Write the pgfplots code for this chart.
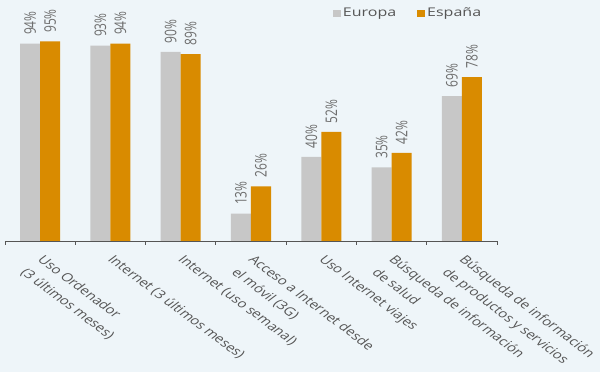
\documentclass[border=0pt]{standalone}
\usepackage{fontspec}
\setmainfont{Open Sans}
\usepackage{pgfplots}
\pgfplotsset{compat=1.18}
\definecolor{bg}{RGB}{238,245,249}
\definecolor{eu}{RGB}{199,199,199}
\definecolor{es}{RGB}{217,139,0}
\definecolor{txt}{RGB}{85,85,85}
\definecolor{vtxt}{RGB}{110,110,110}
\begin{document}
\begin{tikzpicture}
\useasboundingbox (0,0) rectangle (600pt,372pt);
\fill[bg] (0,0) rectangle (600pt,372pt);
\begin{axis}[
  at={(5pt,131pt)}, anchor=south west,
  scale only axis, width=492pt, height=210pt,
  xmin=-0.5, xmax=6.5, ymin=0, ymax=100,
  axis x line*=bottom, axis y line=none,
  ybar=0pt, bar width=20pt,
  clip=false,
  /pgf/number format/assume math mode=true,
  xtick={0,...,6},
  xticklabels={{Uso Ordenador\\(3 últimos meses)},{Internet (3 últimos meses)},{Internet (uso semanal)},{Acceso a Internet desde\\el móvil (3G)},{Uso Internet viajes},{Búsqueda de información\\de salud},{Búsqueda de información\\de productos y servicios}},
  major tick length=0pt,
  minor xtick={-0.5,0.5,...,6.5},
  minor tick length=4pt,
  tick align=outside,
  x axis line style={txt, line width=0.8pt},
  every tick/.style={txt, line width=0.8pt},
  xticklabel style={xshift=5pt, yshift=-13pt, yscale=0.75, rotate=-45, anchor=north west, align=left, inner sep=0pt, font=\fontsize{15.3}{24}\selectfont, text=txt},
  nodes near coords={\scalebox{0.75}[1]{\pgfmathprintnumber{\pgfplotspointmeta}\%}},
  every node near coord/.append style={font=\fontsize{16}{19}\selectfont, text=vtxt, yshift=8.5pt, rotate=90, anchor=west, inner sep=0pt},
  legend columns=2,
  legend style={at={(0.66,1.13)}, anchor=north west, draw=none, fill=none, font=\fontsize{16}{19}\selectfont, text=txt,
    /tikz/every even column/.append style={column sep=19pt}},
]
\addplot[fill=eu, draw=none, legend image code/.code={\fill[eu] (0pt,-3.5pt) rectangle (8pt,3.5pt);}] coordinates {(0,94) (1,93) (2,90) (3,13) (4,40) (5,35) (6,69)};
\addplot[fill=es, draw=none, legend image code/.code={\fill[es] (0pt,-3.5pt) rectangle (8pt,3.5pt);}] coordinates {(0,95) (1,94) (2,89) (3,26) (4,52) (5,42) (6,78)};
\legend{{\scalebox{1}[0.75]{Europa}},{\scalebox{1}[0.75]{España}}}
\end{axis}
\end{tikzpicture}
\end{document}
